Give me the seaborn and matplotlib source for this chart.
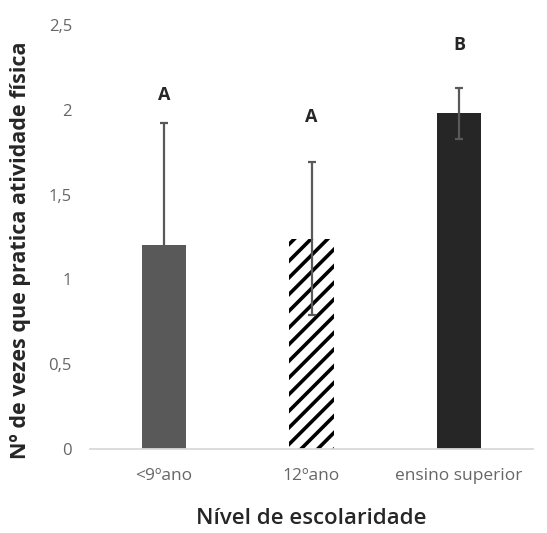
import matplotlib
matplotlib.use("Agg")
import matplotlib.pyplot as plt
import seaborn as sns
import pandas as pd

categories = ["<9ºano", "12ºano", "ensino superior"]
means = [1.20, 1.24, 1.98]
errors = [0.72, 0.45, 0.15]
letters = ["A", "A", "B"]
letter_y = [2.085, 1.955, 2.38]
yticks = [0, 0.5, 1, 1.5, 2, 2.5]
ytick_labels = ["0", "0,5", "1", "1,5", "2", "2,5"]

sns.set_style("white")
plt.rcParams["font.family"] = ["Open Sans", "DejaVu Sans"]
plt.rcParams["hatch.linewidth"] = 2.6

df = pd.DataFrame({"cat": categories, "val": means})

fig = plt.figure(figsize=(5.47, 5.33), dpi=100)
ax = fig.add_axes([90 / 547, 1 - 449 / 533, (533 - 90) / 547, (449 - 25) / 533])

bar_colors = ["#595959", "white", "#262626"]
sns.barplot(data=df, x="cat", y="val", hue="cat", palette=bar_colors,
            width=0.30, ax=ax, legend=False, errorbar=None, saturation=1)

for i, p in enumerate(ax.patches):
    p.set_linewidth(0)
    if i == 1:
        p.set_hatch("//")
        p.set_edgecolor("black")
        p.set_facecolor("white")

ax.errorbar(range(len(categories)), means, yerr=errors, fmt="none",
            ecolor="#595959", elinewidth=1.6, capsize=3.2, capthick=1.6, zorder=5)

for i, (l, yp) in enumerate(zip(letters, letter_y)):
    ax.text(i, yp, l, ha="center", va="center", fontsize=13,
            fontweight="bold", color="#262626")

ax.set_ylim(0, 2.5)
ax.set_xlim(-0.5, 2.5)
ax.set_yticks(yticks)
ax.set_yticklabels(ytick_labels)
ax.tick_params(axis="y", length=0, pad=13, labelsize=12, labelcolor="#666666")
ax.tick_params(axis="x", length=0, pad=14, labelsize=12.5, labelcolor="#666666")

for s in ["top", "right", "left"]:
    ax.spines[s].set_visible(False)
ax.spines["bottom"].set_color("#d9d9d9")
ax.spines["bottom"].set_linewidth(1.3)

ax.set_xlabel("Nível de escolaridade", fontsize=16, fontweight="semibold",
              color="#262626", va="center")
ax.xaxis.set_label_coords(0.5, (449 - 519) / 424)
ax.set_ylabel("Nº de vezes que pratica atividade física", fontsize=15.5,
              fontweight="bold", color="#262626", va="center")
ax.yaxis.set_label_coords((21 - 90) / 443, (449 - 250) / 424)

fig.savefig("out.png", dpi=100)
